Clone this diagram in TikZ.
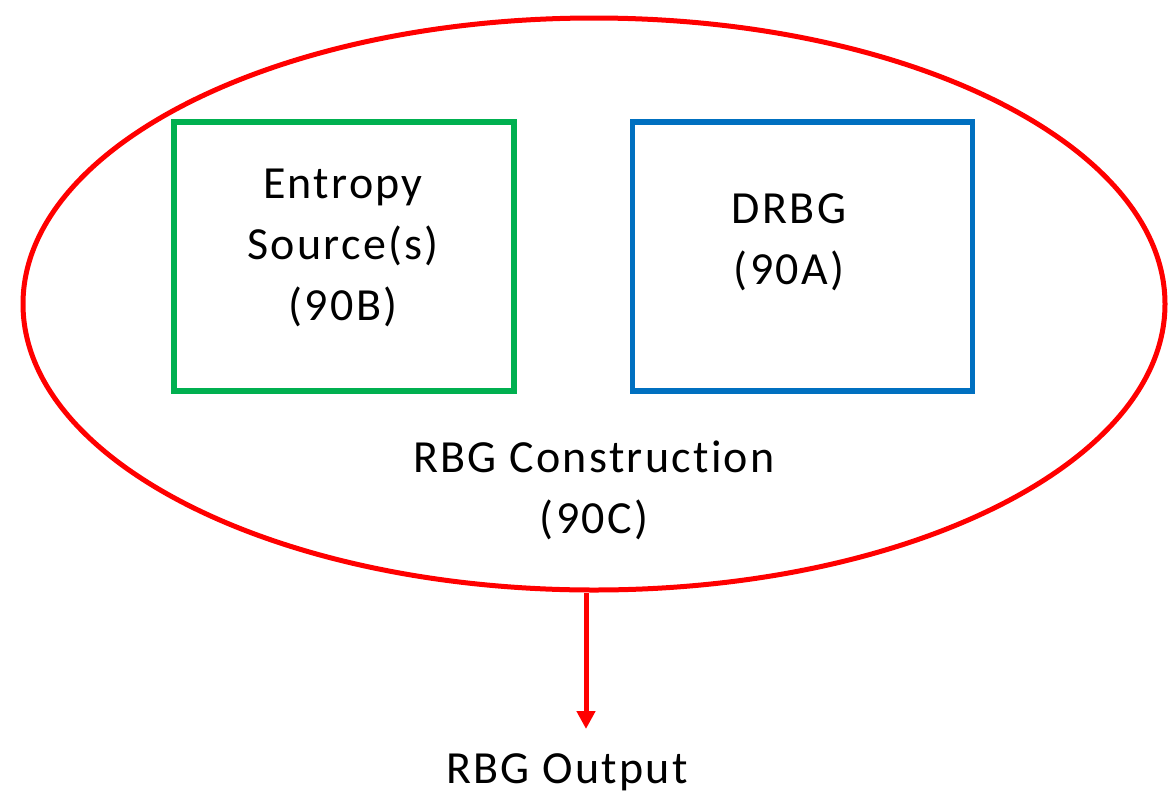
\documentclass[tikz,border=0pt]{standalone}
\usepackage{fontspec}
\setmainfont{Carlito}
\newfontfamily\lblfont[LetterSpace=5,Ligatures=NoCommon]{Carlito}
\usetikzlibrary{shapes.geometric,arrows.meta}
\definecolor{rred}{HTML}{FF0000}
\definecolor{rgreen}{HTML}{00B050}
\definecolor{rblue}{HTML}{0070C0}
\begin{document}
\begin{tikzpicture}[x=1pt,y=-1pt,
  lbl/.style={anchor=base,align=center,inner sep=0pt,font=\lblfont\fontsize{46}{61}\selectfont},
  box/.style={draw,line width=5.5pt,minimum width=340pt,minimum height=269pt,inner sep=0pt},
  ring/.style={draw=rred,ellipse,line width=5pt,minimum width=1142pt,minimum height=572pt,inner sep=0pt}]
\useasboundingbox (0,0) rectangle (1173,796);
\node[ring] (ell) at (594,304) {};
\node[box,draw=rgreen] (ent) at (344,256.5) {};
\node[box,draw=rblue] (drbg) at (802.5,256.5) {};
\node[lbl] (entt) at (343,320) {Entropy\\Source(s)\\(90B)};
\node[lbl] (drbgt) at (789,284) {DRBG\\(90A)};
\node[lbl] (cons) at (594,533) {RBG Construction\\(90C)};
\node[lbl] (out) at (567,783) {RBG Output};
\coordinate (tip) at (586,729);
\draw[rred,line width=5pt,-{Triangle[width=18pt,length=18pt]}] (ell.south -| tip) -- (tip);
\end{tikzpicture}
\end{document}
